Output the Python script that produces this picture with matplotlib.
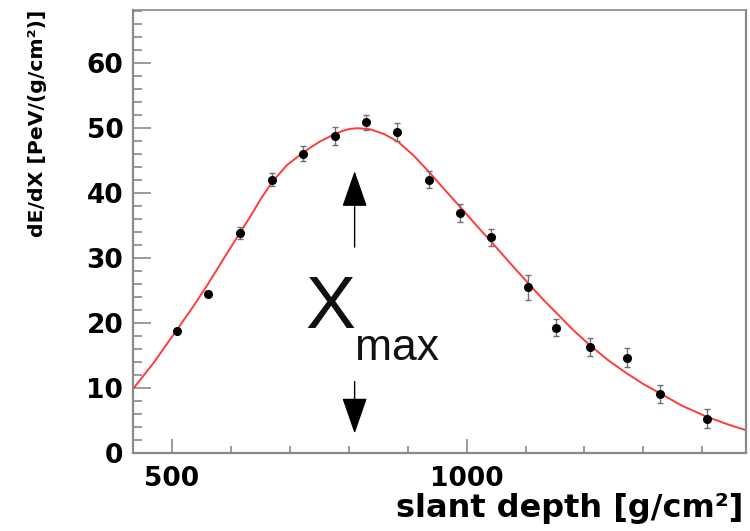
import matplotlib
matplotlib.use("Agg")
import matplotlib.pyplot as plt
from matplotlib.patches import FancyArrowPatch
from matplotlib.ticker import MultipleLocator

# measured profile points
depth = [508, 562, 615, 669, 722, 777, 830, 882, 936, 989, 1042, 1104, 1151, 1209, 1272, 1328, 1407]
dedx = [18.8, 24.5, 33.9, 42.1, 46.1, 48.8, 50.9, 49.4, 42.1, 36.9, 33.2, 25.5, 19.3, 16.35, 14.7, 9.1, 5.3]
dedx_err = [0.3, 0.4, 0.9, 1.0, 1.2, 1.4, 1.1, 1.4, 1.3, 1.4, 1.35, 1.9, 1.3, 1.4, 1.5, 1.4, 1.45]

# fitted profile curve
fit_depth = [434, 470, 508, 535, 559, 585, 607, 633, 650, 670, 695, 723, 750, 774, 790, 802, 815,
             836, 860, 884, 910, 938, 962, 989, 1016, 1045, 1075, 1104, 1128, 1152, 1180,
             1209, 1240, 1271, 1300, 1328, 1365, 1407, 1440, 1474]
fit_dedx = [9.85, 14.0, 18.9, 22.4, 25.7, 29.5, 32.7, 36.4, 39.0, 41.7, 44.3, 46.3, 47.9, 49.0,
            49.6, 49.9, 50.0, 49.85, 49.1, 47.9, 45.8, 43.1, 40.6, 37.9, 35.1, 32.2, 29.1,
            26.2, 23.8, 21.6, 19.0, 16.6, 14.3, 12.3, 10.6, 9.2, 7.3, 5.6, 4.5, 3.5]

x_ticks = [500, 1000]
y_ticks = [0, 10, 20, 30, 40, 50, 60]

fig = plt.figure(figsize=(7.5, 5.31), dpi=100)
ax = fig.add_axes([133/750, (531-453)/531, (746-133)/750, (453-10)/531])

ax.plot(fit_depth, fit_dedx, color='#ff3b3b', lw=1.4, zorder=2)
ax.errorbar(depth, dedx, yerr=dedx_err, fmt='o', color='black', ms=5.5,
            ecolor='#707070', elinewidth=1.0, capsize=2, capthick=1.0, zorder=3)

ax.set_xlim(434, 1474)
ax.set_ylim(0, 68.2)
ax.set_xticks(x_ticks)
ax.set_yticks(y_ticks)
ax.xaxis.set_minor_locator(MultipleLocator(100))
ax.yaxis.set_minor_locator(MultipleLocator(2))

spine_col = '#8a8a8a'
for s in ax.spines.values():
    s.set_color(spine_col)
    s.set_linewidth(1.6)
ax.spines['top'].set_linewidth(1.2)

ax.tick_params(axis='y', which='major', direction='in', length=13, width=1.2, color=spine_col, pad=7)
ax.tick_params(axis='y', which='minor', direction='in', length=6.5, width=1.2, color=spine_col)
ax.tick_params(axis='x', which='major', direction='in', length=10, width=1.2, color=spine_col, pad=9)
ax.tick_params(axis='x', which='minor', direction='in', length=5, width=1.2, color=spine_col)
for lab in ax.get_xticklabels() + ax.get_yticklabels():
    lab.set_fontfamily('DejaVu Sans')
    lab.set_fontweight('bold')
    lab.set_fontsize(19)

fig.text(743/750, (531-516.7)/531, 'slant depth [g/cm²]', ha='right', va='baseline',
         fontsize=23, fontweight='bold', family='DejaVu Sans')
fig.text(38/750, (531-10)/531, 'dE/dX [PeV/(g/cm²)]', ha='center', va='top', rotation=90,
         fontsize=14.7, fontweight='bold', family='DejaVu Sans')

# Xmax annotation
ax.text(305, 531-328.3, 'X', transform=None, fontsize=54, family='Liberation Sans',
        ha='left', va='baseline', color='#111111')
ax.text(355, 531-360, 'max', transform=None, fontsize=32, family='Liberation Sans',
        ha='left', va='baseline', color='#111111')

xmax_pos = 810
style = "-|>,head_length=2.3,head_width=0.8"
a1 = FancyArrowPatch((xmax_pos, 31.7), (xmax_pos, 43.4), arrowstyle=style, mutation_scale=10,
                     color='black', lw=1.0, shrinkA=0, shrinkB=0)
a2 = FancyArrowPatch((xmax_pos, 11.0), (xmax_pos, 3.0), arrowstyle=style, mutation_scale=10,
                     color='black', lw=1.0, shrinkA=0, shrinkB=0)
ax.add_patch(a1)
ax.add_patch(a2)

fig.savefig('out.png', dpi=100)
